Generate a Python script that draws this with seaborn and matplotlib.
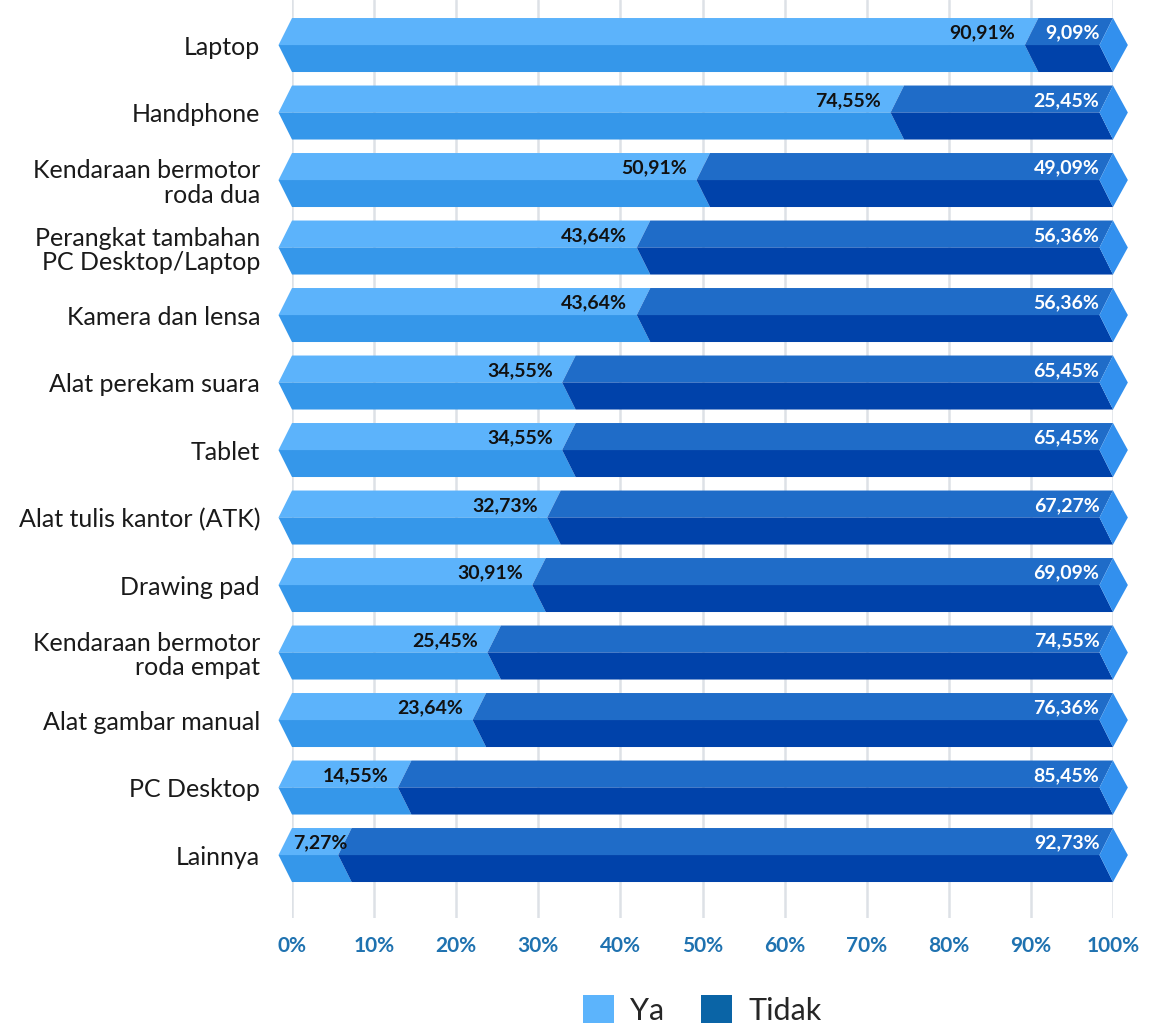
import matplotlib
matplotlib.use("Agg")
import matplotlib.pyplot as plt
from matplotlib.patches import Polygon, Patch
import pandas as pd
import seaborn as sns

# Survey: ownership of supporting equipment (Ya / Tidak), percent of respondents
categories = [
    "Laptop",
    "Handphone",
    "Kendaraan bermotor\nroda dua",
    "Perangkat tambahan\nPC Desktop/Laptop",
    "Kamera dan lensa",
    "Alat perekam suara",
    "Tablet",
    "Alat tulis kantor (ATK)",
    "Drawing pad",
    "Kendaraan bermotor\nroda empat",
    "Alat gambar manual",
    "PC Desktop",
    "Lainnya",
]
ya = [90.91, 74.55, 50.91, 43.64, 43.64, 34.55, 34.55, 32.73, 30.91, 25.45, 23.64, 14.55, 7.27]
tidak = [9.09, 25.45, 49.09, 56.36, 56.36, 65.45, 65.45, 67.27, 69.09, 74.55, 76.36, 85.45, 92.73]
x_ticks = [0, 10, 20, 30, 40, 50, 60, 70, 80, 90, 100]
x_tick_labels = ["0%", "10%", "20%", "30%", "40%", "50%", "60%", "70%", "80%", "90%", "100%"]
series_names = ["Ya", "Tidak"]

# palette: upper / lower faces of the ribbon
YA_TOP, YA_BOT = "#5cb3fb", "#3597ea"
NO_TOP, NO_BOT = "#1f6cc8", "#0042aa"
CAP = "#3290ee"
LEG_YA, LEG_NO = "#5cb4fc", "#0a64a6"
GRID = "#dde1e6"
TICK_BLUE = "#1f72b0"


def fmt(v):
    return f"{v:.2f}".replace(".", ",") + "%"


df = pd.DataFrame({"kategori": categories, "Ya": ya, "Tidak": tidak})
df["Total"] = df["Ya"] + df["Tidak"]

sns.set_theme(style="white")
plt.rcParams["font.family"] = ["Lato", "DejaVu Sans"]

W, H = 1149, 1026
fig = plt.figure(figsize=(W / 100, H / 100), dpi=100)
ax = fig.add_axes([292 / W, 1 - 918 / H, 821 / W, 918 / H])

# full-length bars first, the "Ya" share on top
sns.barplot(data=df, x="Total", y="kategori", orient="h", color=NO_TOP,
            width=0.8, errorbar=None, ax=ax)
sns.barplot(data=df, x="Ya", y="kategori", orient="h", color=YA_TOP,
            width=0.8, errorbar=None, ax=ax)

n = len(categories)
ax.set_xlim(0, 100)
ax.set_ylim(n - 1 + 0.933, -0.667)

# chevron depth (data units) ~ 13 px
px_per_unit = (821) / 100.0
d = 13.5 / px_per_unit

rects = list(ax.patches)
total_bars = {}
ya_bars = {}
for k, r in enumerate(rects):
    idx = int(round(r.get_y() + r.get_height() / 2))
    if k < n:
        total_bars[idx] = r
    else:
        ya_bars[idx] = r
    r.set_visible(False)


def ribbon(x0, x1, top, mid, bot, c_top, c_bot):
    up = Polygon([(x0, top), (x1, top), (x1 - d, mid), (x0 - d, mid)],
                 closed=True, facecolor=c_top, edgecolor="none", clip_on=False, zorder=3)
    lo = Polygon([(x0 - d, mid), (x1 - d, mid), (x1, bot), (x0, bot)],
                 closed=True, facecolor=c_bot, edgecolor="none", clip_on=False, zorder=3)
    ax.add_patch(up)
    ax.add_patch(lo)


fig.canvas.draw()
renderer = fig.canvas.get_renderer()
inv = ax.transData.inverted()

for i in range(n):
    tr = total_bars[i]
    yr = ya_bars[i]
    h = tr.get_height()
    top = tr.get_y()
    bot = top + h
    mid = top + h / 2
    v_ya = yr.get_width()
    v_tot = tr.get_width()

    ribbon(0, v_ya, top, mid, bot, YA_TOP, YA_BOT)
    ribbon(v_ya, v_tot, top, mid, bot, NO_TOP, NO_BOT)
    cap = Polygon([(v_tot, top), (v_tot + d * 1.1, mid), (v_tot, bot), (v_tot - d, mid)],
                  closed=True, facecolor=CAP, edgecolor="none", clip_on=False, zorder=3)
    ax.add_patch(cap)

    ty = mid - 0.18
    t = ax.text(v_ya - 23 / px_per_unit, ty, fmt(v_ya), ha="right", va="center",
                fontsize=14, fontweight="bold", color="#111111", zorder=5)
    bb = t.get_window_extent(renderer)
    x_left = inv.transform((bb.x0, bb.y0))[0]
    if x_left < 0.1:
        t.set_ha("left")
        t.set_x(0.1)
    ax.text(v_tot - d, ty, fmt(df["Tidak"][i]), ha="right", va="center",
            fontsize=14, fontweight="bold", color="white", zorder=5)

# axes styling
ax.set_xticks(x_ticks)
ax.set_xticklabels(x_tick_labels, fontsize=15, fontweight="bold", color=TICK_BLUE)
ax.tick_params(axis="x", length=0, pad=13)
ax.tick_params(axis="y", length=0, pad=23, labelsize=18, labelcolor="#1a1a1a")
for lab in ax.get_yticklabels():
    lab.set_linespacing(1.1)
ax.set_xlabel("")
ax.set_ylabel("")
for s in ax.spines.values():
    s.set_visible(False)
ax.grid(axis="x", color=GRID, linewidth=1.8)
ax.grid(axis="y", visible=False)
ax.set_axisbelow(True)

handles = [Patch(facecolor=LEG_YA, edgecolor="none"), Patch(facecolor=LEG_NO, edgecolor="none")]
fig.legend(handles=handles, labels=series_names, loc="center",
           bbox_to_anchor=((292 + 821 / 2) / W, 1 - 1010 / H), ncol=2, frameon=False,
           fontsize=22, handlelength=1.0, handleheight=1.0, handletextpad=0.55,
           columnspacing=1.2)

fig.savefig("out.png", dpi=100)
